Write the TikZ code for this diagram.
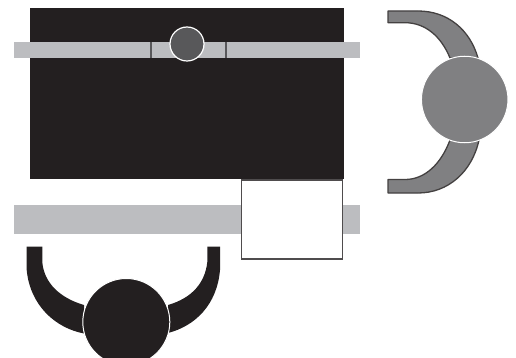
\documentclass[tikz,border=0pt]{standalone}
\definecolor{blk}{HTML}{231F20}
\definecolor{bar}{HTML}{BCBDC0}
\definecolor{midg}{HTML}{808082}
\definecolor{dkg}{HTML}{58585A}
\tikzset{
  barbox/.style={fill=bar,draw=none},
  tick/.style={draw=dkg,line width=2pt},
  arm/.style={fill=midg,draw=blk!85,line width=1.3pt,line join=round},
  blackarm/.style={fill=blk,draw=none},
  ball/.style={circle,inner sep=0pt,minimum size=#1,draw=white,line width=1pt}
}
\begin{document}
\begin{tikzpicture}[x=1pt,y=-1pt]
\useasboundingbox (0,0) rectangle (516,358);
\begin{scope}
\clip (0,0) rectangle (516,358);
% main block
\fill[blk] (30,8) rectangle (343.5,179);
% upper rod
\fill[barbox] (14,42.5) rectangle (360,58);
\draw[tick] (150.5,42.5) -- (150.5,58);
\draw[tick] (225.5,42.5) -- (225.5,58);
\node[ball=34pt,fill=dkg,line width=1.2pt] (hub) at (187,44) {};
% lower rod
\fill[barbox] (14,205) rectangle (360,233.5);
\node[draw=blk!80,line width=1.1pt,fill=white,minimum width=101.5pt,minimum height=79pt,inner sep=0pt] (box) at (292,219.5) {};
% right yoke
\path[arm] (388,11) -- (418,11) .. controls (448,11) and (470,30) .. (478,58)
  -- (450,58) .. controls (441,36) and (425,22.7) .. (405,22.7) -- (388,22.7) -- cycle;
\path[arm] (388,193) -- (418,193) .. controls (448,193) and (472,172) .. (479,140)
  -- (450,140) .. controls (441,164) and (425,179.5) .. (405,179.5) -- (388,179.5) -- cycle;
\node[ball=86.5pt,fill=midg] (rightball) at (464.7,99.5) {};
% bottom yoke
\path[blackarm] (26.7,246.7) -- (42.3,246.7) -- (42.3,262) .. controls (44,283) and (60,298) .. (84,305)
  -- (84,333.5) .. controls (55,328) and (30,305) .. (26.7,270) -- cycle;
\path[blackarm] (220,246.7) -- (207.3,246.7) -- (207.3,262) .. controls (205,283) and (192,298) .. (168,305)
  -- (168,333) .. controls (195,326) and (217,305) .. (220,270) -- cycle;
\node[ball=87pt,fill=blk] (bottomball) at (126.3,322) {};
\end{scope}
\end{tikzpicture}
\end{document}
